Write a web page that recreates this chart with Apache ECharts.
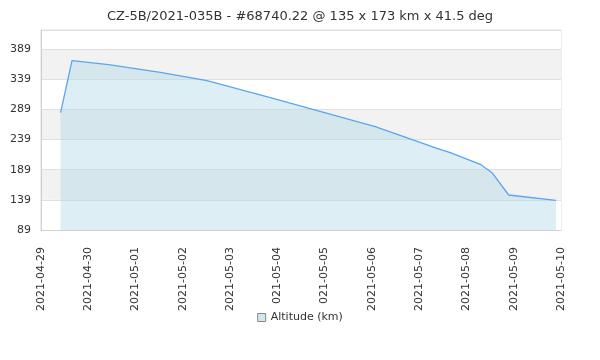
<!DOCTYPE html>
<html>
<head>
<meta charset="utf-8">
<script src="https://cdn.jsdelivr.net/npm/echarts@6/dist/echarts.min.js"></script>
<style>html,body{margin:0;padding:0;background:#fff}#c{width:600px;height:360px}</style>
</head>
<body>
<div id="c"></div>
<script>
const titleText = 'CZ-5B/2021-035B - #68740.22 @ 135 x 173 km x 41.5 deg';
const seriesName = 'Altitude (km)';
const times = ['2021-04-29 09:57', '2021-04-29 15:44', '2021-04-30 10:18', '2021-05-01 12:35',
  '2021-05-02 12:16', '2021-05-02 13:06', '2021-05-03 20:25', '2021-05-06 01:41',
  '2021-05-07 09:03', '2021-05-07 15:49', '2021-05-08 07:02', '2021-05-08 12:59',
  '2021-05-08 21:25', '2021-05-09 21:29'];
const altitudes = [283.4, 369.6, 363.0, 350.4, 336.5, 333.8, 308.3, 260.2, 224.4, 217.1, 197.9, 184.0, 147.0, 138.2];
const xMin = '2021-04-29';
const xMax = '2021-05-10';
const yMin = 89, yMax = 420.5, yStep = 50;

const data = times.map((t, i) => [t, altitudes[i]]);
const chart = echarts.init(document.getElementById('c'));
chart.setOption({
  animation: false,
  textStyle: { fontFamily: 'DejaVu Sans' },
  title: {
    text: titleText, left: 'center', top: 5,
    textStyle: { fontSize: 13, fontWeight: 'normal', color: '#333', fontFamily: 'DejaVu Sans' }
  },
  legend: {
    bottom: 30, left: 'center', icon: 'rect', itemWidth: 8, itemHeight: 8, itemGap: 10,
    backgroundColor: '#ffffff', padding: [7, 5], z: 10,
    textStyle: { fontSize: 11, color: '#333', fontFamily: 'DejaVu Sans' },
    data: [{ name: seriesName, itemStyle: { color: 'rgba(173,216,230,0.6)', borderColor: '#888', borderWidth: 1 } }]
  },
  grid: { left: 41, right: 39, top: 30, bottom: 130, show: true, borderColor: '#dcdcdc', borderWidth: 1, backgroundColor: 'transparent' },
  xAxis: {
    type: 'time', min: xMin, max: xMax,
    minInterval: 86400000, maxInterval: 86400000,
    axisLine: { lineStyle: { color: '#d0d0d0' } },
    axisTick: { show: false },
    splitLine: { show: false },
    axisLabel: { rotate: 90, margin: 17, fontSize: 11, color: '#333', formatter: '{yyyy}-{MM}-{dd}', hideOverlap: false, showMinLabel: true, showMaxLabel: true }
  },
  yAxis: {
    type: 'value', min: yMin, max: yMax, interval: yStep,
    axisLine: { show: true, lineStyle: { color: '#d0d0d0' } },
    axisTick: { show: false },
    splitLine: { lineStyle: { color: '#e0e0e0' } },
    splitArea: { show: true, areaStyle: { color: ['#ffffff', '#f2f2f2'] } },
    axisLabel: { fontSize: 11, color: '#333', margin: 10, showMaxLabel: false }
  },
  series: [{
    name: seriesName, type: 'line', data: data, showSymbol: false, symbol: 'none',
    lineStyle: { color: '#5aa5ef', width: 1.3 },
    itemStyle: { color: 'rgba(173,216,230,0.6)' },
    areaStyle: { color: 'rgba(173,216,230,0.6)', origin: 'start' }
  }]
});
</script>
</body>
</html>
